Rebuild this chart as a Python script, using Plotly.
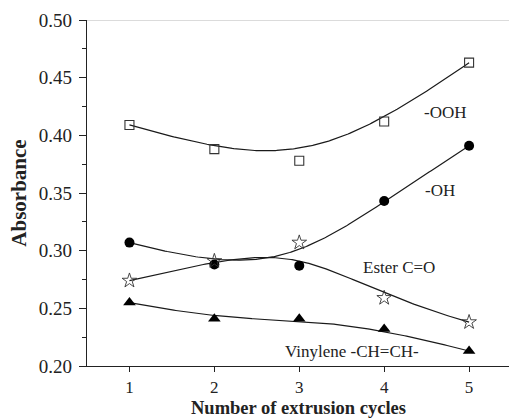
import numpy as np
import plotly.graph_objects as go

cycles = [1, 2, 3, 4, 5]
ooh = [0.409, 0.388, 0.378, 0.412, 0.463]
oh = [0.307, 0.288, 0.287, 0.343, 0.391]
ester = [0.274, 0.291, 0.307, 0.259, 0.238]
vinylene = [0.255, 0.241, 0.241, 0.232, 0.213]

y_ticks = [0.20, 0.25, 0.30, 0.35, 0.40, 0.45, 0.50]
y_tick_text = ["0.20", "0.25", "0.30", "0.35", "0.40", "0.45", "0.50"]
x_ticks = [1, 2, 3, 4, 5]


def bspline(xs, ys, n=200, k=3):
    """Clamped B-spline using the data points as control points."""
    P = np.column_stack([xs, ys]).astype(float)
    m = len(P)
    inner = np.arange(1, m - k)
    knots = np.concatenate([np.zeros(k + 1), inner, np.full(k + 1, m - k)]).astype(float)
    ts = np.linspace(0, m - k, n)
    ts[-1] -= 1e-9

    def basis(i, d, t):
        if d == 0:
            return 1.0 if knots[i] <= t < knots[i + 1] else 0.0
        a = 0.0
        if knots[i + d] != knots[i]:
            a = (t - knots[i]) / (knots[i + d] - knots[i]) * basis(i, d - 1, t)
        b = 0.0
        if knots[i + d + 1] != knots[i + 1]:
            b = (knots[i + d + 1] - t) / (knots[i + d + 1] - knots[i + 1]) * basis(i + 1, d - 1, t)
        return a + b

    out = np.array([sum(basis(i, k, t) * P[i] for i in range(m)) for t in ts])
    return out[:, 0], out[:, 1]


fig = go.Figure()
line_style = dict(color="#1a1a1a", width=1.2)

series = [
    (ooh, dict(symbol="square-open", size=9, color="#333", line=dict(width=1.1))),
    (oh, dict(symbol="circle", size=10, color="#000")),
    (ester, dict(symbol="star-open", size=11, color="#333", line=dict(width=0.9))),
    (vinylene, dict(symbol="triangle-up", size=11, color="#000")),
]

for ys, _ in series:
    cx, cy = bspline(cycles, ys)
    fig.add_trace(go.Scatter(x=cx, y=cy, mode="lines", line=line_style,
                             showlegend=False, hoverinfo="skip"))
for ys, mk in series:
    fig.add_trace(go.Scatter(x=cycles, y=ys, mode="markers", marker=mk,
                             showlegend=False))

font = "Liberation Serif, Times New Roman, serif"
labels = [
    (4.72, 0.420, "-OOH"),
    (4.66, 0.3526, "-OH"),
    (4.17, 0.285, "Ester C=O"),
    (3.62, 0.2125, "Vinylene -CH=CH-"),
]
for x, y, t in labels:
    fig.add_annotation(x=x, y=y, text=t, showarrow=False,
                       font=dict(family=font, size=17, color="#222"))

# x-axis title placed below the tick labels
fig.add_annotation(x=0.5, y=-0.1225, xref="paper", yref="paper",
                   text="<b>Number of extrusion cycles</b>", showarrow=False,
                   xanchor="center", yanchor="middle",
                   font=dict(family=font, size=18.5, color="#222"))

fig.add_shape(type="line", xref="paper", yref="y", x0=0, x1=1, y0=0.5, y1=0.5,
              line=dict(color="#b8b8b8", width=1.2))

fig.update_layout(
    width=509, height=418,
    margin=dict(l=87, r=0, t=20, b=52),
    plot_bgcolor="white", paper_bgcolor="white",
    font=dict(family=font, size=19, color="#222"),
    xaxis=dict(range=[0.5, 5.47], tickvals=x_ticks, showgrid=False, zeroline=False,
               showline=True, linecolor="#222", linewidth=1.3,
               ticks="outside", ticklen=5, tickcolor="#222",
               tickfont=dict(size=17), ticklabelstandoff=0),
    yaxis=dict(range=[0.2, 0.5], tickvals=y_ticks, ticktext=y_tick_text,
               showgrid=False, zeroline=False,
               showline=True, linecolor="#222", linewidth=1.3,
               ticks="outside", ticklen=7, tickcolor="#222", ticklabelstandoff=3,
               minor=dict(dtick=0.025, ticks="outside", ticklen=4, tickcolor="#222"),
               title=dict(text="<b>Absorbance</b>", standoff=6,
                          font=dict(size=21))),
)

fig.write_html("out.html")
